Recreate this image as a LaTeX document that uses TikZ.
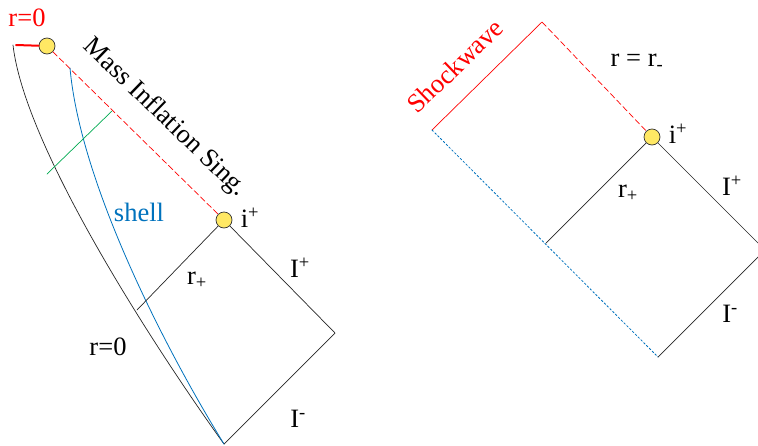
\documentclass[tikz,border=0pt]{standalone}
\usepackage{fontspec}
\setmainfont{Liberation Serif}
\definecolor{shellblue}{RGB}{0,114,189}
\definecolor{raygreen}{RGB}{0,170,80}
\definecolor{dotyellow}{RGB}{255,232,100}
\begin{document}
\begin{tikzpicture}[x=1pt, y=-1pt, font=\fontsize{26.5}{30}\selectfont, line join=round, line cap=round,
	dot/.style={circle, draw=black!80, fill=dotyellow, minimum size=16pt, inner sep=0pt, line width=0.7pt},
	singline/.style={red, dash pattern=on 6pt off 3pt, line width=0.7pt},
	edge/.style={black!85, line width=0.7pt}]
	\useasboundingbox (0,0) rectangle (758,445);
	% left diagram
	\node[dot] (tlL) at (47,46) {};
	\node[dot] (ipL) at (224,220) {};
	\coordinate (rzL) at (16,45);
	\coordinate (curveL) at (13,45);
	\coordinate (shellL) at (70,68);
	\coordinate (botL) at (224,444);
	\coordinate (rtL) at (335,333);
	\coordinate (rpL) at (137,310);
	\coordinate (grA) at (47,174);
	\coordinate (grB) at (112,111);
	\draw[red, line width=2pt] (rzL) -- (tlL);
	\draw[singline] (tlL) -- (ipL);
	\draw[edge] (curveL) .. controls (25,150) and (160,355) .. (botL);
	\draw[shellblue, line width=0.8pt] (shellL) .. controls (80,180) and (160,340) .. (botL);
	\draw[raygreen, line width=0.7pt] (grA) -- (grB);
	\draw[edge] (ipL) -- (rpL);
	\draw[edge] (ipL) -- (rtL) -- (botL);
	\node[red] (lblRzL) at (27,18) {r=0};
	\node[rotate=-44] (lblSing) at (165,118) {Mass Inflation Sing.};
	\node (lblIpL) at (250,218) {i\textsuperscript{+}};
	\node[shellblue] (lblShell) at (139,212) {shell};
	\node (lblRpL) at (197,280) {r\textsubscript{+}};
	\node (lblScrpL) at (300,268) {I\textsuperscript{+}};
	\node (lblR0L) at (108,347) {r=0};
	\node (lblScrmL) at (298,419) {I\textsuperscript{-}};
	% right diagram
	\node[dot] (ipR) at (652,137) {};
	\coordinate (topR) at (542,22);
	\coordinate (leftR) at (432,130);
	\coordinate (rpR) at (546,243);
	\coordinate (botR) at (658,357);
	\coordinate (rtR) at (765,250);
	\draw[red, line width=0.7pt] (leftR) -- (topR);
	\draw[singline] (topR) -- (ipR);
	\draw[shellblue, dash pattern=on 2pt off 2pt, line width=0.8pt] (leftR) -- (botR);
	\draw[edge] (ipR) -- (rpR);
	\draw[edge] (ipR) -- (rtR) -- (botR);
	\node[red, rotate=44] (lblShock) at (455,66) {Shockwave};
	\node (lblRm) at (637,62) {r = r\textsubscript{-}};
	\node (lblIpR) at (678,134) {i\textsuperscript{+}};
	\node (lblRpR) at (628,193) {r\textsubscript{+}};
	\node (lblScrpR) at (732,186) {I\textsuperscript{+}};
	\node (lblScrmR) at (730,314) {I\textsuperscript{-}};
\end{tikzpicture}
\end{document}
